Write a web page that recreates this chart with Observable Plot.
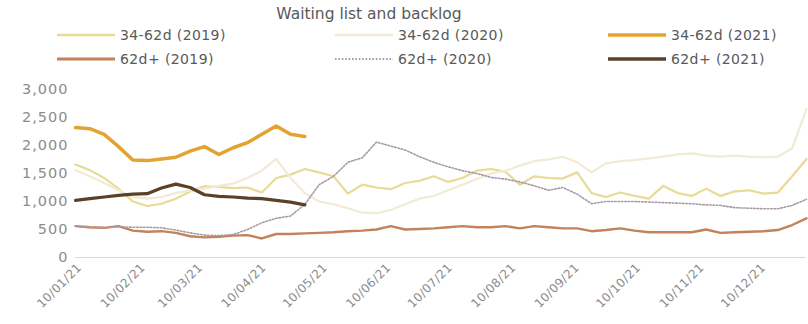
<!DOCTYPE html>
<html><head><meta charset="utf-8">
<script src="https://cdn.jsdelivr.net/npm/d3@7"></script>
<script src="https://cdn.jsdelivr.net/npm/@observablehq/plot@0.6"></script>
<style>
body{margin:0;background:#fff;font-family:"DejaVu Sans",sans-serif;}
#wrap{position:relative;width:808px;height:324px;overflow:hidden;background:#fff}
#head{position:relative;height:72px}
#title{position:absolute;left:0;width:738px;top:5px;text-align:center;font-size:15.5px;color:#595959;}
.item{position:absolute;height:16px;display:flex;align-items:center;font-size:14px;letter-spacing:0.4px;color:#595959;white-space:nowrap}
.item svg{margin-right:5px}
.yax text{letter-spacing:1px}
.xax text{letter-spacing:0.4px}
</style></head>
<body><div id="wrap"><div id="head"><div id="title">Waiting list and backlog</div></div><div id="chart"></div></div>
<script>
const weeks = ["2021-01-08","2021-01-15","2021-01-22","2021-01-29","2021-02-05","2021-02-12","2021-02-19","2021-02-26",
"2021-03-05","2021-03-12","2021-03-19","2021-03-26","2021-04-02","2021-04-09","2021-04-16","2021-04-23","2021-04-30",
"2021-05-07","2021-05-14","2021-05-21","2021-05-28","2021-06-04","2021-06-11","2021-06-18","2021-06-25",
"2021-07-02","2021-07-09","2021-07-16","2021-07-23","2021-07-30","2021-08-06","2021-08-13","2021-08-20","2021-08-27",
"2021-09-03","2021-09-10","2021-09-17","2021-09-24","2021-10-01","2021-10-08","2021-10-15","2021-10-22","2021-10-29",
"2021-11-05","2021-11-12","2021-11-19","2021-11-26","2021-12-03","2021-12-10","2021-12-17","2021-12-24","2021-12-31"];

const xTicks = ["2021-01-10","2021-02-10","2021-03-10","2021-04-10","2021-05-10","2021-06-10",
"2021-07-10","2021-08-10","2021-09-10","2021-10-10","2021-11-10","2021-12-10"];
const yTicks = [0,500,1000,1500,2000,2500,3000];

const mid2019 = [1660,1560,1420,1230,1000,920,960,1050,1180,1270,1260,1240,1250,1160,1420,1480,1580,1520,1450,1140,1300,1250,1220,1330,1370,1450,1350,1420,1550,1580,1530,1300,1450,1420,1410,1520,1150,1080,1160,1100,1050,1280,1150,1100,1230,1100,1180,1200,1140,1160,1450,1760];
const mid2020 = [1560,1450,1330,1200,1080,1050,1080,1150,1200,1230,1280,1320,1420,1550,1760,1420,1150,1000,950,880,800,790,850,950,1050,1100,1200,1300,1400,1500,1550,1640,1720,1750,1800,1700,1520,1680,1720,1740,1770,1800,1840,1860,1820,1800,1820,1800,1790,1800,1950,2650];
const mid2021 = [2320,2300,2200,1980,1740,1730,1760,1790,1900,1980,1840,1960,2050,2200,2350,2200,2160];
const long2019 = [560,540,530,560,480,460,470,440,380,360,370,390,400,340,420,420,430,440,450,470,480,500,560,500,510,520,540,560,540,540,560,520,560,540,520,520,470,490,520,480,450,450,450,450,500,440,450,460,470,490,580,700];
const long2020 = [560,530,530,550,540,540,530,490,440,400,390,410,500,620,700,740,950,1300,1450,1700,1780,2060,1990,1920,1800,1700,1620,1550,1500,1430,1400,1350,1280,1200,1250,1130,960,1000,1000,1000,990,980,970,960,940,930,890,880,870,870,930,1040];
const long2021 = [1020,1050,1080,1110,1130,1140,1240,1310,1250,1120,1090,1080,1060,1050,1020,990,940];

const seriesNames = ["34-62d (2019)","34-62d (2020)","34-62d (2021)","62d+ (2019)","62d+ (2020)","62d+ (2021)"];
const seriesValues = [mid2019, mid2020, mid2021, long2019, long2020, long2021];
const styles = [
  {stroke:"#e9da95", strokeWidth:2.2},
  {stroke:"#f1ebd3", strokeWidth:2.2},
  {stroke:"#e3a332", strokeWidth:3.5},
  {stroke:"#c2825a", strokeWidth:2.4},
  {stroke:"#a89aa6", strokeWidth:1.6, strokeDasharray:"1.6,1.8"},
  {stroke:"#5a4129", strokeWidth:3.2}
];

const rows = seriesValues.map(vals => vals.map((v,i)=>({date:new Date(weeks[i]), value:v})));

// Legend
const head = document.getElementById("head");
const legendPos = [[57,27],[335,27],[608,27],[57,51],[335,51],[608,51]];
seriesNames.forEach((name,i)=>{
  const d = document.createElement("div");
  d.className="item";
  d.style.left = legendPos[i][0]+"px";
  d.style.top = legendPos[i][1]+"px";
  const s = styles[i];
  d.innerHTML = `<svg width="58" height="10"><line x1="0" y1="5" x2="58" y2="5" stroke="${s.stroke}" stroke-width="${Math.min(s.strokeWidth+0.5,3.5)}" ${s.strokeDasharray?`stroke-dasharray="${s.strokeDasharray}"`:""}/></svg><span>${name}</span>`;
  head.appendChild(d);
});

const chart = Plot.plot({
  width: 808, height: 252,
  marginLeft: 75, marginRight: 2, marginTop: 17, marginBottom: 67,
  x: {type:"utc", domain:[new Date(weeks[0]), new Date(weeks[weeks.length-1])]},
  y: {domain:[0,3000]},
  style: {fontFamily:"DejaVu Sans", fontSize:"14px", color:"#8c8c8c", background:"#fff"},
  marks: [
    Plot.ruleY([0], {stroke:"#d9d9d9", strokeWidth:1.2}),
    Plot.axisY({ticks: yTicks, tickFormat: d3.format(","), tickSize: 0, tickPadding: 7, label: null, fontSize: 14.5, className:"yax"}),
    Plot.axisX({ticks: xTicks.map(d=>new Date(d)), tickFormat: d3.utcFormat("%d/%m/%y"), tickRotate: -45, tickSize: 0, tickPadding: 8, label: null, fontSize: 12, className:"xax"}),
    ...rows.map((r,i)=>Plot.line(r, {x:"date", y:"value", ...styles[i], strokeLinejoin:"round", strokeLinecap:"round"}))
  ]
});
document.getElementById("chart").appendChild(chart);
</script></body></html>
